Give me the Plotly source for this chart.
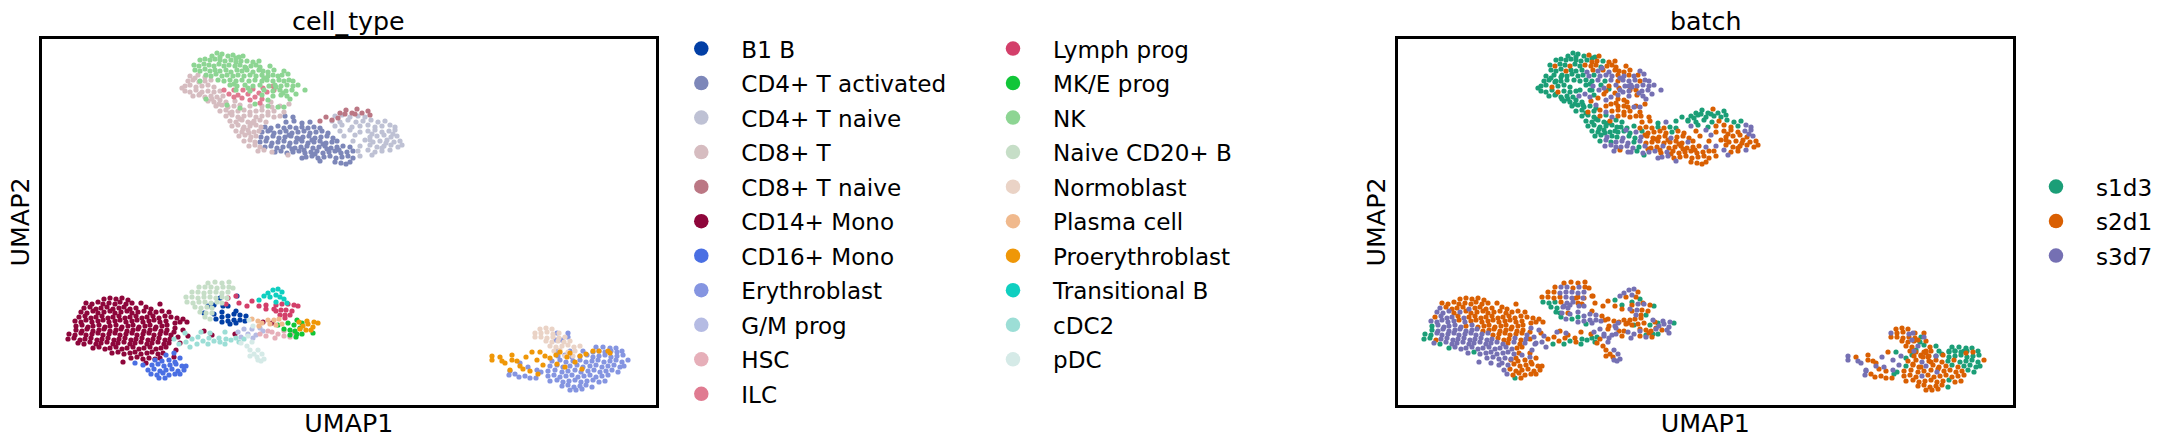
import plotly.graph_objects as go

W, H = 2173, 446
BATCHES = ["s1d3", "s2d1", "s3d7"]
BATCH_COLORS = ["#1b9e77", "#d95f02", "#7570b3"]
CELL_TYPES = ["B1 B","CD4+ T activated","CD4+ T naive","CD8+ T","CD8+ T naive","CD14+ Mono","CD16+ Mono","Erythroblast","G/M prog","HSC","ILC",
              "Lymph prog","MK/E prog","NK","Naive CD20+ B","Normoblast","Plasma cell","Proerythroblast","Transitional B","cDC2","pDC"]
CELL_COLORS = ["#023fa5","#7d87b9","#bec1d4","#d6bcc0","#bb7784","#8e063b","#4a6fe3","#8595e1","#b5bbe3","#e6afb9","#e07b91",
               "#d33f6a","#11c638","#8dd593","#c6dec7","#ead3c6","#f0b98d","#ef9708","#0fcfc0","#9cded6","#d5eae7"]

# Points: (UMAP1, UMAP2, batch index)
NK = [(17.2,35.0,0),(17.7,35.3,0),(18.2,35.2,0),(18.8,35.0,0),(19.3,35.1,1),(19.9,34.9,0),(20.3,35.0,1),
(16.0,34.6,0),(16.5,34.7,0),(17.0,34.6,0),(17.5,34.7,0),(18.0,34.6,0),(18.5,34.5,0),(19.1,34.6,0),(19.6,34.4,1),(20.1,34.5,1),(20.7,34.5,0),
(15.4,34.1,0),(15.9,34.0,1),(16.4,34.2,0),(16.9,34.1,0),(17.4,34.0,1),(17.9,34.2,0),(18.4,34.0,0),(18.9,34.1,1),(19.5,34.0,1),(20.0,34.1,1),(20.5,33.9,0),(21.1,34.0,1),(21.6,34.1,1),(22.0,33.9,1),
(15.5,33.6,0),(16.0,33.5,0),(16.5,33.7,0),(17.0,33.5,1),(17.5,33.6,0),(18.0,33.5,0),(18.6,33.6,0),(19.1,33.4,2),(19.7,33.6,1),(20.2,33.5,2),(20.7,33.6,1),(21.3,33.4,2),(21.9,33.6,1),(22.3,33.5,1),(22.8,33.4,1),
(16.6,33.1,0),(17.1,33.0,0),(17.6,33.2,0),(18.2,33.0,0),(18.7,33.1,0),(19.3,33.0,2),(19.8,33.1,0),(20.4,33.0,2),(21.0,33.1,2),(21.6,33.0,2),(22.2,33.1,1),(22.8,33.0,2),(23.3,33.1,1),(23.8,33.0,2),(24.2,33.1,1),
(17.8,32.6,0),(18.4,32.5,0),(19.0,32.6,0),(19.6,32.5,0),(20.2,32.6,2),(20.9,32.5,0),(21.5,32.6,2),(22.2,32.5,1),(22.7,32.6,2),(23.3,32.5,2),(23.9,32.6,2),(24.4,32.5,1),(24.9,32.6,2),(25.3,32.5,2),
(19.0,32.1,0),(19.7,32.0,2),(20.5,32.1,0),(21.3,32.0,1),(22.0,32.1,2),(22.9,32.0,2),(23.5,32.1,2),(24.1,32.0,2),(24.7,32.1,2),(25.3,32.0,2),(25.8,32.1,2),
(19.6,31.6,0),(21.0,31.5,1),(22.4,31.6,2),(23.3,31.5,2),(24.0,31.6,1),(24.6,31.5,2),(25.2,31.6,2),(26.5,31.6,2),
(22.2,31.1,2),(23.3,31.0,2),(24.1,31.1,1),(24.7,31.0,2),(21.5,30.2,1),(22.8,30.0,1),(23.8,29.9,2),(24.4,29.9,2),(20.0,29.8,0),(18.7,30.1,0),(16.6,30.7,0),(16.0,32.5,0),
(18.0,34.9,0),(19.6,34.8,0),(21.3,34.4,1),(21.9,34.5,1),(23.0,34.0,1),(23.4,33.6,1),(24.4,33.5,2),(24.8,33.2,2),(19.4,32.2,0),(20.8,31.8,2),(23.6,31.9,2),(24.3,31.3,2),(25.6,31.2,2),(25.0,30.7,2),(22.8,30.6,1),(20.6,33.8,2),(22.4,32.8,2)]

ILC = [(18.4,31.6,0),(18.9,31.2,2),(19.4,31.6,0),(19.8,31.1,0),(20.3,31.6,2),(20.2,30.8,1),(20.8,31.2,1),(21.3,31.7,0),(21.5,30.9,2),(21.9,31.3,1),(22.3,31.8,1),(22.2,30.7,1),(21.0,30.6,2),(19.4,30.9,2),(22.7,31.4,2),(22.0,30.3,1),(23.3,32.0,2),(23.4,31.6,1)]

CD8T = [(15.0,33.0,0),(15.8,33.1,0),(16.5,32.9,0),(14.8,32.5,0),(15.3,32.6,0),(15.9,32.4,0),(16.5,32.5,0),(17.1,32.6,0),
(14.5,32.0,0),(15.0,32.1,0),(15.6,31.9,1),(16.2,32.0,0),(16.8,32.1,0),(17.4,31.9,0),(14.5,31.5,0),(15.0,31.4,0),(15.6,31.6,0),(16.2,31.4,1),(16.8,31.5,0),(17.4,31.4,0),(18.0,31.5,0),
(15.3,31.0,0),(15.9,31.1,0),(16.5,30.9,0),(17.1,31.0,0),(17.7,30.9,0),(18.3,31.0,2),(16.8,30.5,0),(17.4,30.4,0),(18.0,30.6,0),(18.6,30.4,0),(19.5,30.5,1),
(17.6,30.0,0),(18.2,30.1,0),(18.8,29.9,0),(19.4,30.0,0),(20.0,30.1,2),(21.0,30.0,1),(22.2,30.0,1),(23.2,29.9,1),(24.0,30.0,1),
(18.0,29.5,0),(18.6,29.6,0),(19.2,29.4,1),(19.8,29.5,0),(20.4,29.6,1),(21.0,29.4,2),(21.6,29.5,1),(22.2,29.6,1),(22.8,29.4,1),(23.4,29.5,1),(24.4,29.4,1),
(18.6,29.0,0),(19.2,29.1,0),(19.8,28.9,0),(20.4,29.0,1),(21.0,29.1,0),(21.6,28.9,2),(22.2,29.0,1),(22.8,29.1,1),(23.4,28.9,1),(24.0,29.0,1),
(19.0,28.5,0),(19.6,28.4,0),(20.2,28.6,0),(20.8,28.4,0),(21.4,28.5,1),(22.0,28.6,0),(22.6,28.4,0),
(19.2,28.0,0),(19.8,28.1,0),(20.4,27.9,0),(21.0,28.0,0),(21.6,28.1,0),(22.1,27.9,0),
(19.6,27.5,0),(20.2,27.4,0),(20.8,27.6,0),(21.4,27.4,0),(21.9,27.5,0),(19.9,27.0,0),(20.5,27.1,0),(21.1,26.9,2),(21.6,27.0,0),
(20.4,26.5,0),(21.0,26.6,2),(21.5,26.4,0),(20.9,26.0,2),(21.5,26.1,2),(22.0,25.9,2),(21.8,25.5,2),(22.4,25.6,1),(23.2,25.4,2),(24.8,25.1,0),
(15.5,32.8,0),(14.2,31.8,0),(16.0,31.2,0),(17.9,30.2,0),(19.0,29.3,0),(20.0,28.7,0),(21.2,28.3,0),(20.3,27.7,0),(20.9,27.3,0),(23.1,30.4,1),(24.9,30.2,1),(17.2,30.7,0)]

CD4A = [(24.5,29.0,1),(25.3,28.9,1),(24.6,28.4,1),(25.4,28.5,1),(26.2,28.3,0),(27.0,28.4,2),
(22.5,27.9,0),(23.1,27.8,0),(23.8,28.0,0),(24.4,27.8,1),(25.0,27.9,1),(25.6,27.8,1),(26.2,27.9,0),(26.8,27.8,1),(27.4,27.9,0),(28.0,27.8,0),
(22.2,27.4,0),(22.8,27.5,0),(23.4,27.3,0),(24.0,27.4,2),(24.6,27.5,0),(25.2,27.3,1),(25.8,27.4,1),(26.4,27.5,1),(27.0,27.3,1),(27.6,27.4,0),(28.2,27.5,1),(28.8,27.3,1),
(22.1,26.9,0),(22.7,26.8,2),(23.3,27.0,0),(23.9,26.8,0),(24.5,26.9,2),(25.1,27.0,1),(25.7,26.8,1),(26.3,26.9,1),(26.9,27.0,1),(27.5,26.8,2),(28.1,26.9,1),(28.7,27.0,1),(29.3,26.8,1),
(22.0,26.4,2),(22.6,26.5,2),(23.2,26.3,2),(23.8,26.4,0),(24.4,26.5,2),(25.0,26.3,1),(25.6,26.4,1),(26.2,26.5,1),(26.8,26.3,1),(27.4,26.4,1),(28.0,26.5,1),(28.6,26.3,1),(29.2,26.4,2),(29.7,26.5,1),
(22.5,25.9,2),(23.1,26.0,2),(23.7,25.8,2),(24.3,25.9,0),(24.9,26.0,2),(25.5,25.8,1),(26.1,25.9,1),(26.7,26.0,2),(27.3,25.8,1),(27.9,25.9,1),(28.5,26.0,1),(29.1,25.8,1),(29.7,25.9,1),(30.3,26.0,1),
(23.5,25.4,2),(24.1,25.5,0),(24.7,25.3,2),(25.3,25.4,2),(25.9,25.5,2),(26.5,25.3,1),(27.1,25.4,2),(27.7,25.5,1),(28.3,25.3,1),(28.9,25.4,1),(29.5,25.5,1),(30.1,25.3,1),(30.7,25.4,1),(31.3,25.5,1),
(26.6,24.9,2),(27.2,25.0,2),(27.8,24.8,1),(28.4,24.9,1),(29.0,25.0,1),(29.6,24.8,1),(30.2,24.9,1),(30.8,25.0,1),(31.3,24.8,1),(29.5,24.4,1),(30.1,24.3,1),(30.6,24.2,1),(31.0,24.4,1),
(23.0,27.6,2),(24.9,27.1,1),(26.0,26.7,1),(27.2,26.6,1),(28.3,26.2,1),(25.2,25.7,1),(26.4,25.6,1),(27.5,25.2,1),(28.7,25.7,1),(29.9,25.6,1),(31.0,25.9,2),(28.0,24.5,2),(26.2,24.8,2)]

CD4N = [(29.5,29.0,0),(30.2,29.1,0),(31.0,28.9,0),(31.8,29.0,0),(32.5,28.9,0),(29.2,28.5,0),(30.0,28.4,0),(30.8,28.6,0),(31.6,28.4,0),(32.3,28.5,1),(33.1,28.6,0),(33.8,28.4,0),(34.5,28.5,0),
(29.5,28.0,2),(30.2,28.1,0),(31.2,27.9,0),(32.0,28.0,1),(32.8,28.1,1),(33.5,27.9,1),(34.2,28.0,0),(35.0,28.1,2),(35.5,27.9,2),
(30.0,27.5,1),(31.0,27.6,2),(32.0,27.4,1),(32.8,27.5,1),(33.5,27.6,1),(34.2,27.4,1),(34.9,27.5,2),(35.5,27.6,2),
(30.4,27.0,1),(31.5,27.1,2),(33.0,26.9,1),(33.7,27.0,1),(34.4,27.1,1),(35.1,26.9,1),(35.7,27.0,2),
(31.3,26.5,1),(32.5,26.6,1),(33.3,26.4,1),(34.0,26.5,1),(34.7,26.6,1),(35.4,26.4,1),(36.0,26.5,1),
(32.0,26.0,2),(33.0,26.1,1),(33.7,25.9,1),(34.4,26.0,1),(35.1,26.1,1),(35.8,25.9,1),(31.8,25.5,1),(32.8,25.6,2),(33.5,25.4,1),(34.2,25.5,1),(35.0,25.6,2),(32.0,25.0,1),(33.2,25.1,2),
(33.2,27.2,1),(34.6,26.3,1),(35.3,27.2,2),(34.2,25.8,1),(33.0,26.6,1),(36.2,26.1,1)]

CD8N = [(28.0,28.5,0),(28.6,28.9,0),(29.2,28.6,0),(29.8,28.8,0),(30.0,29.3,0),(30.6,29.6,0),(31.2,29.3,0),(31.7,29.7,1),(32.2,29.3,0),(32.8,29.5,0),(33.0,29.1,0),(30.5,29.2,0),(31.5,29.2,0)]

MONO = [(6.4,10.7,1),(7.0,10.8,1),(7.6,10.7,1),(8.2,10.8,1),(8.8,10.6,1),
(4.6,10.3,1),(5.2,10.2,1),(5.8,10.4,1),(6.3,10.2,1),(6.9,10.3,1),(7.5,10.2,1),(8.0,10.4,1),(8.6,10.2,1),(9.2,10.3,1),
(4.4,9.8,2),(5.0,9.9,1),(5.6,9.7,1),(6.1,9.8,1),(6.7,9.9,1),(7.3,9.7,2),(7.9,9.8,1),(8.4,9.9,1),(9.0,9.7,1),(9.6,9.8,1),(10.6,9.9,1),(11.1,9.7,1),
(4.1,9.4,2),(4.7,9.3,2),(5.3,9.5,2),(5.8,9.3,1),(6.4,9.4,2),(7.0,9.5,1),(7.5,9.3,1),(8.1,9.4,1),(8.7,9.5,1),(9.2,9.3,1),(9.8,9.4,1),(10.4,9.5,1),(11.0,9.3,1),(11.6,9.4,1),(12.2,9.5,1),
(3.9,8.9,1),(4.5,9.0,2),(5.1,8.8,2),(5.6,8.9,2),(6.2,9.0,1),(6.8,8.8,2),(7.3,8.9,1),(7.9,9.0,1),(8.5,8.8,1),(9.0,8.9,1),(9.6,9.0,1),(10.2,8.8,1),(10.7,8.9,1),(11.3,9.0,1),(11.9,8.8,1),(12.5,9.0,1),(13.1,8.9,1),(13.7,8.8,1),(14.3,8.7,1),
(3.5,8.5,2),(4.1,8.4,2),(4.6,8.6,2),(5.2,8.4,2),(5.8,8.5,2),(6.3,8.6,1),(6.9,8.4,2),(7.5,8.5,1),(8.0,8.6,1),(8.6,8.4,1),(9.2,8.5,1),(9.7,8.6,1),(10.3,8.4,1),(10.9,8.5,1),(11.4,8.6,1),(12.0,8.4,1),(12.6,8.5,1),(14.0,8.4,1),(14.7,8.4,1),
(3.6,8.0,0),(4.2,8.1,2),(4.8,7.9,2),(5.3,8.0,2),(5.9,8.1,2),(6.5,7.9,2),(7.0,8.0,1),(7.6,8.1,2),(8.2,7.9,1),(8.8,8.0,1),(9.3,8.1,1),(9.9,7.9,1),(10.5,8.0,1),(11.0,8.1,1),(11.6,7.9,1),(12.2,8.0,1),(12.7,8.1,1),
(3.6,7.6,0),(4.2,7.5,2),(4.7,7.7,2),(5.3,7.5,2),(5.9,7.6,2),(6.4,7.7,2),(7.0,7.5,2),(7.6,7.6,2),(8.1,7.7,2),(8.7,7.5,1),(9.3,7.6,1),(9.8,7.7,1),(10.4,7.5,1),(11.0,7.6,1),(11.5,7.7,1),(12.1,7.5,1),(12.7,7.6,1),
(2.9,7.2,0),(3.5,7.1,0),(4.1,7.3,2),(4.6,7.1,2),(5.2,7.2,2),(5.8,7.3,2),(6.3,7.1,2),(6.9,7.2,2),(7.5,7.3,2),(8.0,7.1,2),(8.6,7.2,2),(9.2,7.3,2),(9.7,7.1,1),(10.3,7.2,1),(10.9,7.3,1),(11.4,7.1,1),(12.0,7.2,1),(12.6,7.3,1),(13.1,7.1,2),
(2.8,6.7,0),(3.4,6.8,0),(4.0,6.6,1),(4.5,6.7,2),(5.1,6.8,2),(5.7,6.6,2),(6.2,6.7,2),(6.8,6.8,2),(7.4,6.6,2),(7.9,6.7,2),(8.5,6.8,2),(9.1,6.6,2),(9.6,6.7,2),(10.2,6.8,1),(10.8,6.6,1),(11.3,6.7,1),(11.9,6.8,2),(12.5,6.6,1),(13.0,6.7,2),
(3.8,6.3,2),(4.4,6.2,0),(5.0,6.4,2),(5.6,6.2,2),(6.1,6.3,2),(6.7,6.4,2),(7.3,6.2,2),(7.8,6.3,2),(8.4,6.4,2),(9.0,6.2,2),(9.5,6.3,2),(10.1,6.4,2),(10.7,6.2,2),(11.2,6.3,1),(11.8,6.4,2),(12.4,6.2,1),(12.9,6.3,2),
(5.3,5.8,0),(5.9,5.9,2),(6.5,5.7,2),(7.0,5.8,2),(7.6,5.9,2),(8.2,5.7,2),(8.7,5.8,2),(9.3,5.9,2),(9.9,5.7,2),(10.4,5.8,2),(11.0,5.9,2),(11.6,5.7,2),(12.1,5.8,1),(12.6,5.9,1),
(7.2,5.3,2),(7.8,5.4,0),(8.4,5.2,2),(9.0,5.3,2),(9.5,5.4,2),(10.1,5.2,2),(10.7,5.3,2),(11.2,5.4,2),(11.8,5.2,2),(12.3,5.3,1),
(9.1,4.8,2),(9.7,4.9,2),(10.3,4.7,2),(10.9,4.8,2),(11.5,4.7,2),(12.0,4.8,1),
(13.4,7.4,1),(13.8,6.9,2),(14.3,7.6,2),(14.0,6.3,2),(13.6,5.6,2),(14.8,7.0,2),(16.4,7.5,1),(17.2,7.1,1),(19.5,7.2,1),(23.2,8.3,1),(22.3,8.4,1),
(10.1,10.3,1),(12.9,9.4,1),(12.0,10.2,1),(13.5,8.3,1),(13.5,7.8,2),(8.3,4.4,2),(10.6,4.3,2),(13.4,4.9,2)]

CD16 = [(9.5,4.3,2),(10.3,4.1,2),(12.6,5.1,2),(13.4,5.3,1),(14.0,4.8,1),(11.5,4.6,1),(12.2,4.5,1),(12.9,4.6,1),(13.5,4.4,1),
(11.2,4.1,2),(11.8,4.2,1),(12.4,4.0,1),(13.0,4.1,1),(13.6,4.2,1),(14.2,4.0,1),(14.6,4.0,1),
(10.8,3.6,2),(11.4,3.7,1),(12.0,3.5,1),(12.6,3.6,1),(13.2,3.7,1),(13.8,3.5,1),(14.4,3.6,1),
(11.1,3.2,2),(11.7,3.1,1),(12.3,3.3,1),(12.9,3.1,1),(13.5,3.2,1),(14.0,3.2,1),(11.9,2.8,0),(12.5,2.8,1)]

NAIVEB = [(16.8,12.3,1),(17.5,12.4,1),(18.2,12.3,1),(18.9,12.4,1),(15.9,11.9,1),(16.5,11.9,2),(17.1,11.9,2),(17.7,11.8,1),(18.3,11.9,2),(18.9,11.9,1),(19.3,11.8,1),
(15.2,11.4,1),(15.8,11.4,1),(16.4,11.3,2),(17.0,11.4,2),(17.6,11.4,2),(18.2,11.3,2),(18.8,11.4,2),(14.6,10.9,1),(15.2,10.9,1),(15.8,10.8,1),(16.4,10.9,1),(17.0,10.9,2),(17.6,10.8,2),(18.2,10.9,1),(18.7,10.8,2),
(14.7,10.4,0),(15.3,10.3,0),(15.9,10.4,0),(16.5,10.4,1),(17.1,10.3,2),(17.7,10.4,2),(18.2,10.3,1),(15.5,9.9,0),(16.1,9.8,0),(16.7,9.9,2),(17.2,9.8,2),(16.0,9.4,0),(16.6,9.3,2),(17.2,9.3,1),(16.5,8.9,0),(17.0,8.7,2)]

B1B = [(16.8,10.0,2),(17.4,10.1,2),(18.0,10.8,1),(18.3,10.0,2),(16.4,9.3,0),(17.4,9.2,2),(18.2,9.4,2),(18.8,10.0,2),(19.6,9.5,1),(18.2,8.9,0),(18.8,9.0,2),(19.4,9.2,2),(20.0,9.1,2),(20.6,9.0,1),(17.6,8.7,0),(18.2,8.4,2),(18.8,8.5,2),(19.4,8.6,2),(20.0,8.6,2),(20.5,8.5,2),(19.0,8.2,0),(19.6,8.3,2),(19.7,11.0,1)]

LYMPH = [(18.8,10.8,1),(19.6,11.0,1),(19.9,10.3,1),(18.6,10.2,1),(20.7,10.0,1),(21.2,10.5,1),(21.9,10.0,1),(22.6,10.1,0),(22.6,9.7,1),(23.4,9.7,2),(23.6,10.1,1),(24.2,10.2,2),(24.8,10.2,2),(25.4,10.1,1),(25.8,10.0,0),
(23.6,9.5,1),(24.1,9.6,2),(24.6,9.6,1),(25.2,9.5,1),(24.0,9.1,2),(24.5,9.1,1),(25.0,9.1,0),(24.5,8.8,1)]

TRANSB = [(21.9,10.6,0),(22.4,11.0,2),(22.8,11.3,2),(23.3,11.6,2),(23.8,11.7,2),(24.2,11.4,1),(23.0,10.9,1),(23.6,11.1,2),(24.0,10.9,1),(24.4,10.7,0),(24.7,10.3,1),(23.6,10.4,0)]

PLASMA = [(21.2,8.7,1),(21.8,8.5,1),(22.2,8.3,2),(22.8,8.6,1),(23.4,8.6,1),(23.9,8.7,1),(23.6,8.1,1),(24.2,8.2,1),(23.0,8.2,1),(21.9,8.0,2)]

HSC = [(22.0,7.2,2),(22.6,7.0,1),(23.2,7.4,2),(23.8,7.2,2),(24.4,7.0,1),(25.0,6.9,2),(25.3,7.3,1),(22.8,7.5,1),(24.4,7.5,2),(23.5,6.8,2)]

GMP = [(19.8,7.4,2),(20.4,7.7,2),(20.8,7.2,2),(21.2,7.7,1),(21.6,7.1,2),(22.0,7.8,2),(20.1,6.9,0),(21.3,6.8,2),(22.3,7.5,1)]

MKE = [(23.8,8.1,0),(24.4,7.7,1),(24.8,8.3,1),(25.0,7.6,1),(25.4,8.1,0),(25.7,8.6,2),(25.5,7.5,1),(26.0,7.8,1),(25.0,7.1,0),(25.7,7.2,0),(26.2,7.2,0),(25.6,6.9,1),(26.2,8.3,0),(27.3,7.3,2)]

PROE = [(25.9,8.4,1),(26.3,8.0,2),(26.8,8.2,2),(27.4,8.4,2),(27.8,8.3,0),(26.0,7.7,2),(26.6,7.6,1),(27.1,7.6,2),(26.7,8.5,2),(27.3,7.9,2),
(45.2,5.0,2),(45.2,4.6,2),(46.2,4.5,2),(46.0,4.9,1),(46.5,4.3,2),(47.2,4.6,1),(47.2,5.1,1),(47.7,4.5,1),(48.0,4.0,2),(48.6,4.9,2),(49.2,5.4,1),(49.7,4.6,2),(50.0,5.4,0),(50.5,5.0,2),(47.0,3.6,2),(48.3,3.7,1),(49.0,3.5,1),(49.8,3.2,0),(50.3,4.1,2),(51.0,4.8,0),(51.6,5.1,0),(52.0,5.4,1),(52.7,4.9,1),(53.0,5.3,1),(53.5,4.4,1),(54.0,5.0,0),(54.6,5.2,0),(55.3,5.5,0),(55.9,5.5,0),(56.8,5.5,0),(57.0,5.3,1),(52.5,3.9,1),(51.7,4.2,1),(54.2,3.7,1)]

CDC2 = [(13.4,6.7,1),(13.9,6.2,2),(14.6,6.4,2),(15.2,6.7,1),(15.8,6.9,1),(15.7,6.2,0),(16.3,6.5,1),(16.9,6.8,1),(16.8,6.2,0),(17.4,6.5,0),(17.9,6.8,1),(18.0,6.4,1),(18.6,6.7,0),(18.5,6.2,0),(19.1,6.6,0),(19.6,6.8,0),(19.9,6.4,0),(20.4,6.7,1),(15.0,5.9,2),(14.5,7.3,1),(17.0,7.3,2),(18.5,7.4,1),(16.1,7.4,2)]

PDC = [(20.1,6.3,1),(20.7,6.0,1),(21.2,6.4,2),(21.0,5.6,1),(21.4,5.2,1),(21.0,5.0,1),(21.8,5.6,2),(21.7,4.9,1),(22.2,5.2,2),(22.4,4.7,2),(21.8,4.6,2),(22.1,4.5,2),(20.8,7.0,2),(20.9,8.6,1),(21.3,8.0,1)]

ERY = [(51.7,7.3,2),(52.8,7.3,1),(52.8,6.9,2),(51.6,6.6,2),(52.2,6.6,1),
(55.6,5.9,0),(56.3,5.9,0),(57.0,5.8,0),(57.6,5.8,0),(51.8,5.5,2),(53.0,5.5,1),(54.3,5.5,0),(55.3,5.4,0),(55.9,5.5,0),(56.5,5.4,0),(57.1,5.5,0),(57.7,5.4,1),(58.2,5.5,0),
(51.8,5.0,1),(52.5,5.1,1),(53.2,4.9,1),(54.0,5.0,2),(54.7,5.1,1),(55.3,4.9,0),(55.9,5.0,0),(56.5,5.1,0),(57.1,4.9,0),(57.7,5.0,0),(58.3,5.1,0),
(51.2,4.5,1),(52.0,4.6,1),(52.6,4.4,2),(53.3,4.5,1),(54.0,4.6,1),(54.6,4.4,1),(55.2,4.5,0),(55.8,4.6,1),(56.4,4.4,0),(57.0,4.5,0),(57.6,4.6,0),(58.2,4.4,0),(58.8,4.6,1),
(51.0,4.0,0),(51.7,4.1,1),(52.3,3.9,1),(53.0,4.0,2),(53.7,4.1,1),(54.3,3.9,1),(55.0,4.0,1),(55.6,4.1,0),(56.2,3.9,1),(56.8,4.0,0),(57.4,4.1,0),(58.0,3.9,0),(58.4,4.0,0),
(50.8,3.5,1),(51.5,3.6,1),(52.2,3.4,1),(52.8,3.5,1),(53.5,3.6,1),(54.1,3.4,2),(54.8,3.5,1),(55.4,3.6,1),(56.0,3.4,1),(56.6,3.5,1),(57.2,3.6,0),(57.8,3.4,0),
(50.8,3.0,1),(51.4,3.1,1),(52.0,2.9,1),(52.6,3.0,2),(53.2,3.1,1),(53.8,2.9,1),(54.4,3.0,1),(55.0,3.1,1),(55.6,2.9,1),(56.2,3.0,1),(56.8,3.1,1),
(51.0,2.5,1),(51.7,2.6,1),(52.3,2.4,1),(52.9,2.5,1),(53.5,2.6,1),(54.1,2.4,1),(54.7,2.5,1),(55.3,2.6,0),(55.9,2.4,1),(56.5,2.5,1),
(52.2,2.0,1),(52.8,2.1,1),(53.4,1.9,1),(54.0,2.0,1),(54.6,2.1,1),(55.2,1.9,0),(53.0,1.6,1),(53.6,1.6,1),(54.2,1.7,1),
(47.0,3.5,2),(46.9,3.1,2),(47.5,3.2,1),(47.9,2.9,1),(48.5,3.0,1),(49.0,2.8,1),(49.6,2.8,1),(50.1,3.4,0),(49.7,3.6,2),(48.8,3.9,2),(48.0,4.3,1)]

NORMO = [(50.0,7.7,1),(50.6,7.8,1),(51.2,7.7,1),(49.5,7.3,2),(50.1,7.3,1),(50.7,7.4,1),(51.3,7.2,2),(51.9,7.3,1),(49.5,6.9,1),(50.1,6.9,1),(50.7,6.8,1),(51.3,6.9,1),(51.9,6.8,1),(52.5,6.9,0),
(50.6,6.5,1),(51.2,6.4,1),(51.8,6.5,1),(52.4,6.4,0),(53.0,6.5,1),(51.0,6.0,1),(51.6,5.9,1),(52.2,6.0,2),(52.8,6.1,0),(53.4,5.9,1),(54.0,6.0,0),(51.4,5.5,1),(52.0,5.6,0),(52.8,5.4,1),(53.5,5.5,1),(52.5,5.0,1),(53.3,5.0,1)]

GROUPS = [B1B, CD4A, CD4N, CD8T, CD8N, MONO, CD16, ERY, GMP, HSC, ILC, LYMPH, MKE, NK, NAIVEB, NORMO, PLASMA, PROE, TRANSB, CDC2, PDC]

FONT = "DejaVu Sans"
FS = 23.1
FS_TITLE = 25.3
PT = 5.2
fig = go.Figure()
for name, color, pts in zip(CELL_TYPES, CELL_COLORS, GROUPS):
    fig.add_trace(go.Scatter(x=[p[0] for p in pts], y=[p[1] for p in pts], mode="markers", name=name,
                             marker=dict(color=color, size=PT, line_width=0), showlegend=False, xaxis="x", yaxis="y"))
for i, (name, color) in enumerate(zip(CELL_TYPES, CELL_COLORS)):
    fig.add_trace(go.Scatter(x=[None], y=[None], mode="markers", name=name, marker=dict(color=color, size=14.5, line_width=0),
                             xaxis="x", yaxis="y", legend="legend" if i < 11 else "legend2", legendgroup=name))
all_pts = [p for pts in GROUPS for p in pts]
for k, (name, color) in enumerate(zip(BATCHES, BATCH_COLORS)):
    sel = [p for p in all_pts if p[2] == k]
    fig.add_trace(go.Scatter(x=[p[0] for p in sel], y=[p[1] for p in sel], mode="markers", name=name,
                             marker=dict(color=color, size=PT, line_width=0), showlegend=False, xaxis="x2", yaxis="y2"))
    fig.add_trace(go.Scatter(x=[None], y=[None], mode="markers", name=name, marker=dict(color=color, size=14.5, line_width=0),
                             xaxis="x2", yaxis="y2", legend="legend3", legendgroup=name))

def ax(title, domain, rng, anchor, standoff):
    return dict(domain=domain, range=rng, anchor=anchor, showticklabels=False, ticks="", showgrid=False, zeroline=False,
                showline=True, mirror=True, linecolor="#000", linewidth=2.7,
                title=dict(text=title, font=dict(family=FONT, size=FS_TITLE, color="#000"), standoff=standoff))
ydom = [1 - 405.35/H, 1 - 38.65/H]
leg = dict(font=dict(family=FONT, size=FS, color="#000"), itemwidth=70, bgcolor="rgba(0,0,0,0)", borderwidth=0, tracegroupgap=1.5,
           xanchor="left", yanchor="top", itemsizing="trace", itemclick=False, itemdoubleclick=False)
title_font = dict(family=FONT, size=FS_TITLE, color="#000")
fig.update_layout(
    width=W, height=H, margin=dict(l=0, r=0, t=0, b=0), paper_bgcolor="#fff", plot_bgcolor="#fff", font=dict(family=FONT, color="#000"),
    xaxis=ax("UMAP1", [41.65/W, 655.95/W], [0.165, 61.595], "y", 8), yaxis=ax("UMAP2", ydom, [0.065, 36.735], "x", 2),
    xaxis2=ax("UMAP1", [1397.65/W, 2012.95/W], [0.165, 61.695], "y2", 8), yaxis2=ax("UMAP2", ydom, [0.065, 36.735], "x2", 2),
    legend=dict(leg, x=661.3/W, y=1-27/H), legend2=dict(leg, x=973/W, y=1-27/H), legend3=dict(leg, x=2016/W, y=1-165/H),
    annotations=[dict(text="cell_type", x=348.5/W, y=1-21/H, xref="paper", yref="paper", xanchor="center", yanchor="middle", showarrow=False, font=title_font),
                 dict(text="batch", x=1705/W, y=1-21/H, xref="paper", yref="paper", xanchor="center", yanchor="middle", showarrow=False, font=title_font)],
)
fig.write_html("out.html", config=dict(displayModeBar=False), post_script="document.body.style.margin='0';")
